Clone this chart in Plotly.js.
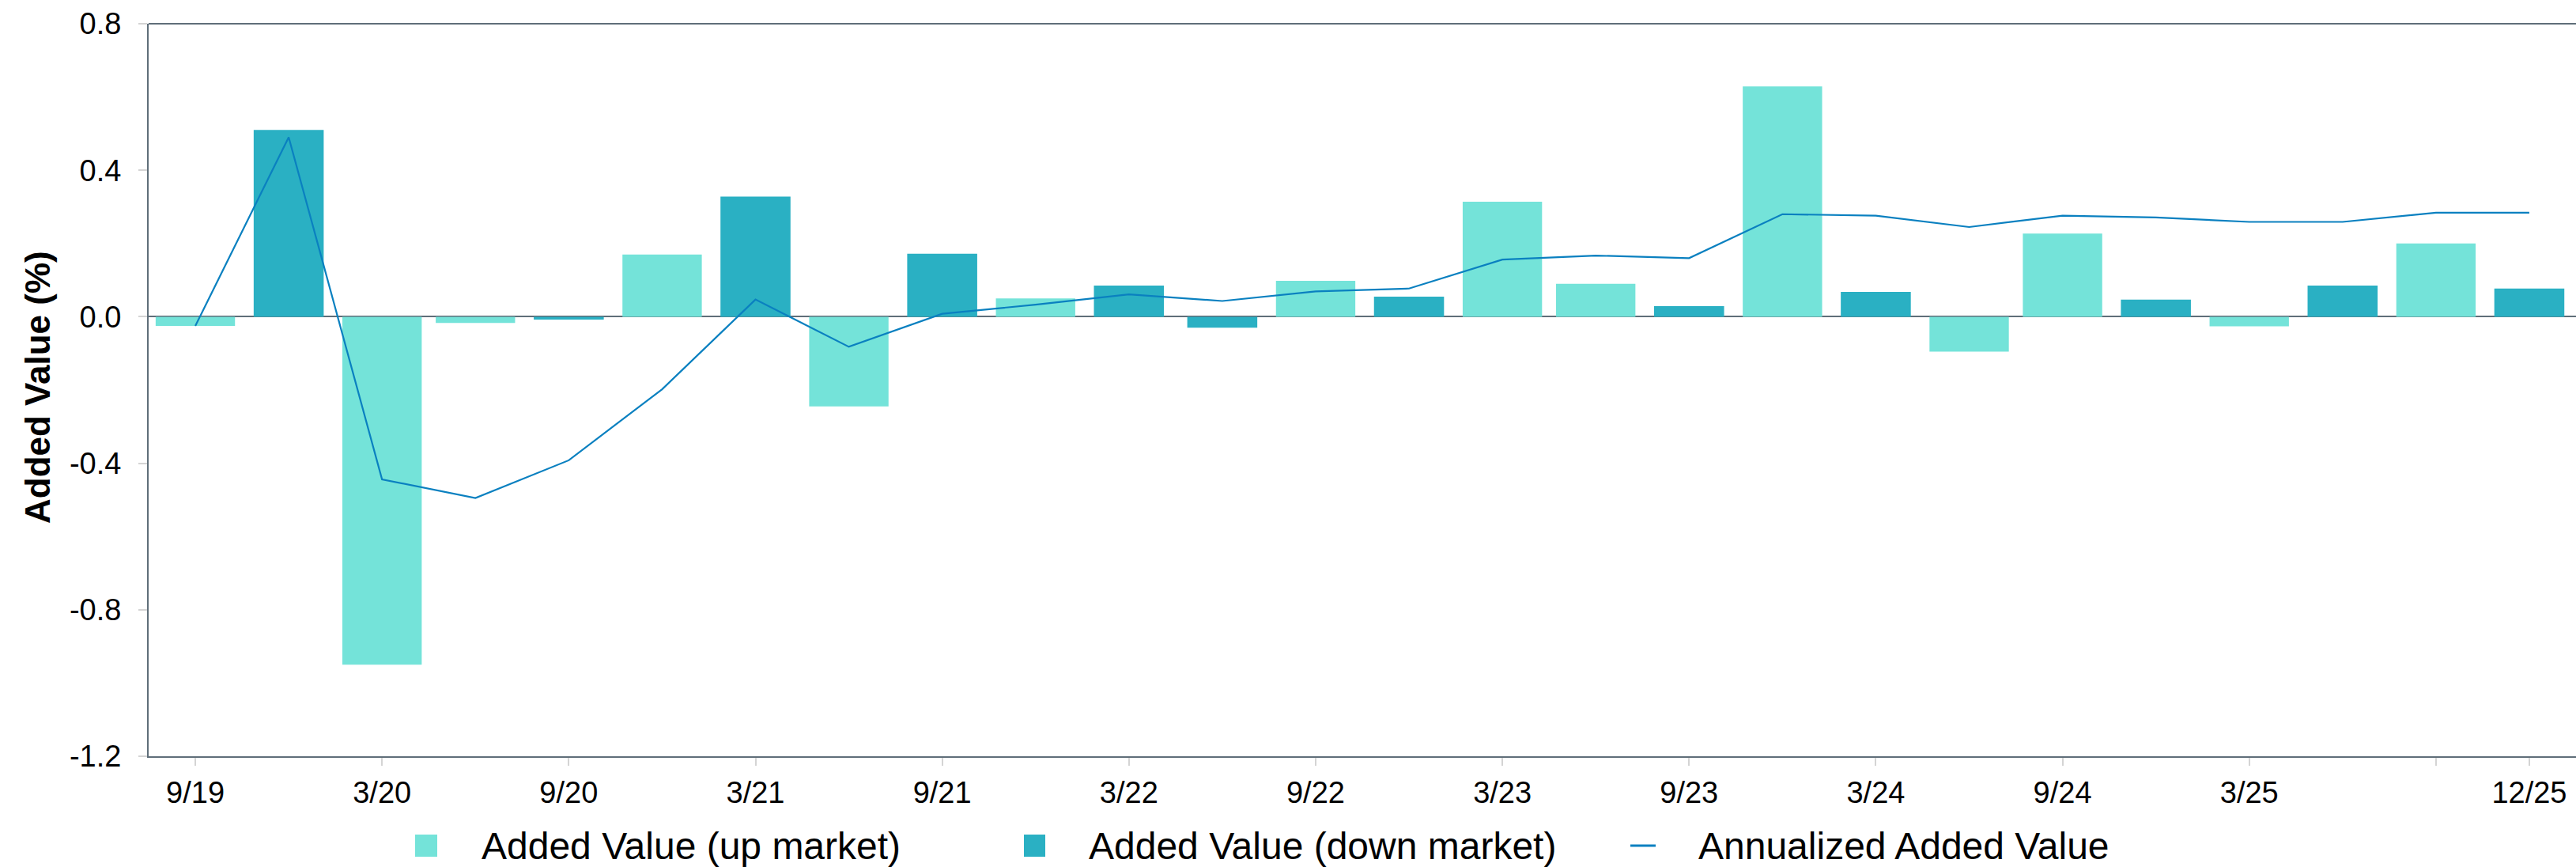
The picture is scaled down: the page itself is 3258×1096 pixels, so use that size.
<!DOCTYPE html>
<html>
<head>
<meta charset="utf-8">
<script src="https://cdn.plot.ly/plotly-3.0.1.min.js"></script>
<style>
  html, body { margin: 0; padding: 0; background: #ffffff; }
  #chart { width: 3258px; height: 1096px; }
</style>
</head>
<body>
<div id="chart"></div>
<script>
// Quarter-end labels
const quarters = ["9/19","12/19","3/20","6/20","9/20","12/20","3/21","6/21","9/21","12/21",
                  "3/22","6/22","9/22","12/22","3/23","6/23","9/23","12/23","3/24","6/24",
                  "9/24","12/24","3/25","6/25","9/25","12/25"];

// Quarterly added value in up-market quarters (%)
const upMarket = [-0.025, null, -0.95, -0.017, null, 0.17, null, -0.245, null, 0.05,
                  null, null, 0.098, null, 0.314, 0.09, null, 0.629, null, -0.095,
                  0.227, null, -0.026, null, 0.20, null];

// Quarterly added value in down-market quarters (%)
const downMarket = [null, 0.51, null, null, -0.008, null, 0.328, null, 0.172, null,
                    0.085, -0.03, null, 0.055, null, null, 0.029, null, 0.068, null,
                    null, 0.047, null, 0.085, null, 0.077];

// Annualized added value since inception (%)
const annualized = [-0.025, 0.49, -0.444, -0.495, -0.392, -0.198, 0.047, -0.082, 0.008, 0.033,
                    0.061, 0.043, 0.069, 0.077, 0.156, 0.167, 0.16, 0.28, 0.276, 0.245,
                    0.276, 0.271, 0.259, 0.259, 0.284, 0.284];

// Axis ticks
const xTickVals = ["9/19","3/20","9/20","3/21","9/21","3/22","9/22","3/23","9/23","3/24","9/24","3/25","9/25","12/25"];
const xTickText = ["9/19","3/20","9/20","3/21","9/21","3/22","9/22","3/23","9/23","3/24","9/24","3/25","","12/25"];
const yTickVals = [-1.2, -0.8, -0.4, 0, 0.4, 0.8];
const yTickText = ["-1.2", "-0.8", "-0.4", "0.0", "0.4", "0.8"];

const yTitle = "Added Value (%)";
const seriesNames = ["Added Value (up market)", "Added Value (down market)", "Annualized Added Value"];
const colors = { up: "#74E3D9", down: "#2AB0C3", line: "#0A80C0" };

const W = 3258, H = 1096;
const M = { l: 188, r: 0, t: 30, b: 140 };
const plotW = W - M.l - M.r, plotH = H - M.t - M.b;
const px = x => (x - M.l) / plotW;          // pixel x -> paper x
const py = y => (H - M.b - y) / plotH;      // pixel y -> paper y

const FONT = "Liberation Sans, Arial, Helvetica, sans-serif";
const AXIS_COLOR = "#5f6e79";

const traces = [
  {
    type: "bar", name: seriesNames[0], x: quarters, y: upMarket,
    marker: { color: colors.up }, width: 0.85, showlegend: false, hoverinfo: "x+y"
  },
  {
    type: "bar", name: seriesNames[1], x: quarters, y: downMarket,
    marker: { color: colors.down }, width: 0.75, showlegend: false, hoverinfo: "x+y"
  },
  {
    type: "scatter", mode: "lines", name: seriesNames[2], x: quarters, y: annualized,
    line: { color: colors.line, width: 2.2 }, showlegend: false
  }
];

// Legend drawn as swatches + labels below the axis
const legendY = 1069;
const legendItems = [
  { kind: "box",  color: colors.up,   x0: 525,  x1: 553,  tx: 607,  name: seriesNames[0] },
  { kind: "box",  color: colors.down, x0: 1295, x1: 1322, tx: 1375, name: seriesNames[1] },
  { kind: "dash", color: colors.line, x0: 2062, x1: 2094, tx: 2146, name: seriesNames[2] }
];

const shapes = [
  // top frame line
  { type: "line", xref: "paper", yref: "paper", x0: 0, x1: 1, y0: 1, y1: 1,
    line: { color: AXIS_COLOR, width: 2 } }
];
const annotations = [
  // vertical axis title
  { xref: "paper", yref: "paper", x: px(47), y: py(490), xanchor: "center", yanchor: "middle",
    textangle: -90, showarrow: false, text: "<b>" + yTitle + "</b>",
    font: { family: FONT, size: 44, color: "#000000" } }
];
legendItems.forEach(it => {
  if (it.kind === "box") {
    shapes.push({ type: "rect", xref: "paper", yref: "paper",
      x0: px(it.x0), x1: px(it.x1), y0: py(legendY + 14), y1: py(legendY - 14),
      fillcolor: it.color, line: { width: 0 } });
  } else {
    shapes.push({ type: "line", xref: "paper", yref: "paper",
      x0: px(it.x0), x1: px(it.x1), y0: py(legendY), y1: py(legendY),
      line: { color: it.color, width: 3 } });
  }
  annotations.push({ xref: "paper", yref: "paper", x: px(it.tx), y: py(legendY),
    xanchor: "left", yanchor: "middle", showarrow: false, text: it.name,
    font: { family: FONT, size: 48, color: "#000000" } });
});

const layout = {
  width: W, height: H,
  margin: M,
  paper_bgcolor: "#ffffff", plot_bgcolor: "#ffffff",
  barmode: "overlay",
  font: { family: FONT, color: "#000000" },
  xaxis: {
    type: "category", categoryorder: "array", categoryarray: quarters,
    range: [-0.5, quarters.length - 0.5],
    tickmode: "array", tickvals: xTickVals, ticktext: xTickText,
    ticks: "outside", ticklen: 10, tickwidth: 2, tickcolor: "#d4d4d4",
    tickfont: { family: FONT, size: 38, color: "#000000" },
    ticklabelstandoff: 1,
    showline: true, linecolor: AXIS_COLOR, linewidth: 2,
    showgrid: false, zeroline: false, fixedrange: true
  },
  yaxis: {
    range: [-1.2, 0.8],
    tickmode: "array", tickvals: yTickVals, ticktext: yTickText,
    ticks: "outside", ticklen: 11, tickwidth: 2, tickcolor: "#d4d4d4",
    tickfont: { family: FONT, size: 38, color: "#000000" },
    ticklabelstandoff: 14,
    showline: true, linecolor: AXIS_COLOR, linewidth: 2,
    showgrid: false,
    zeroline: true, zerolinecolor: AXIS_COLOR, zerolinewidth: 2,
    fixedrange: true
  },
  shapes: shapes,
  annotations: annotations,
  showlegend: false
};

Plotly.newPlot("chart", traces, layout, { displayModeBar: false, staticPlot: true });
</script>
</body>
</html>
